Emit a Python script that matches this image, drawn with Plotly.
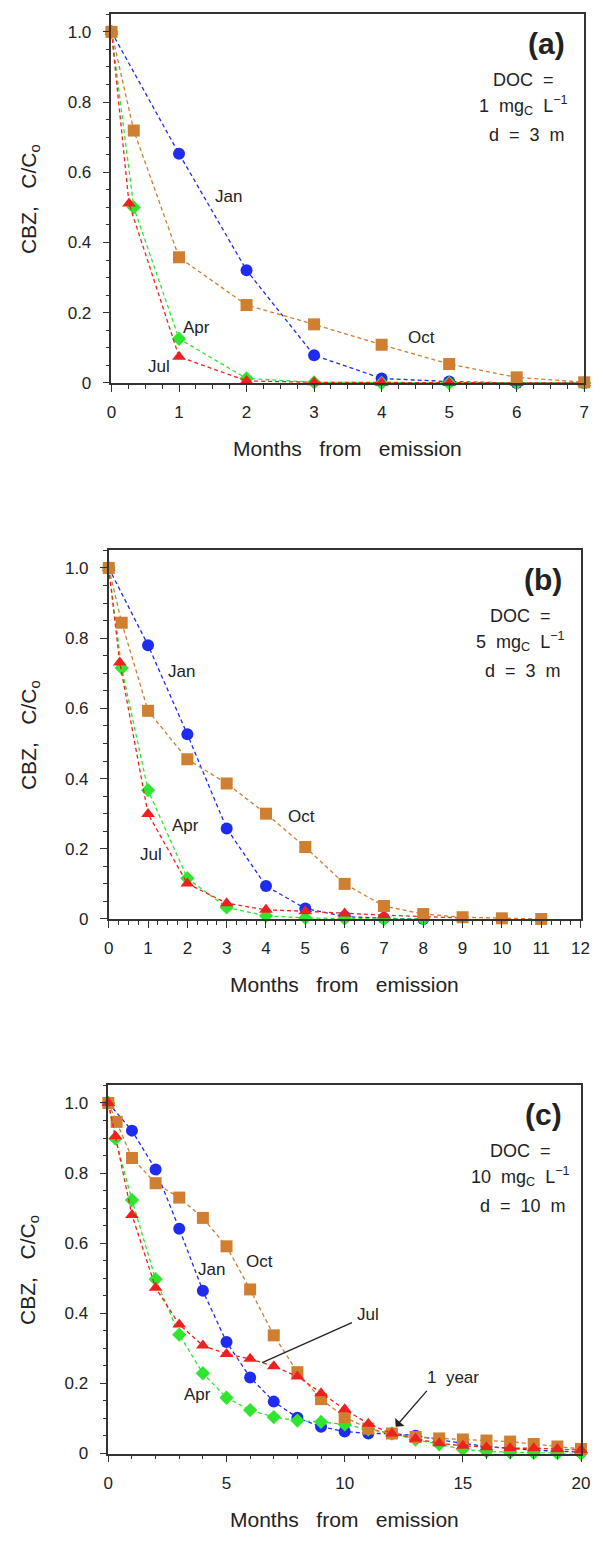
import plotly.graph_objects as go

# ---------------- data ----------------
# Panel (a): DOC = 1 mgC/L, d = 3 m
a_jan_x = [0, 1, 2, 3, 4, 5, 6, 7]
a_jan_y = [1.0, 0.653, 0.321, 0.079, 0.013, 0.004, 0.0, 0.0]
a_apr_x = [0, 0.33, 1, 2, 3, 4, 5, 6, 7]
a_apr_y = [1.0, 0.50, 0.126, 0.013, 0.002, 0.0, 0.0, 0.0, 0.0]
a_jul_x = [0, 0.26, 1, 2, 3, 4, 5, 6, 7]
a_jul_y = [1.0, 0.511, 0.075, 0.006, 0.002, 0.001, 0.0, 0.0, 0.0]
a_oct_x = [0, 0.33, 1, 2, 3, 4, 5, 6, 7]
a_oct_y = [1.0, 0.719, 0.358, 0.222, 0.167, 0.109, 0.054, 0.016, 0.002]

# Panel (b): DOC = 5 mgC/L, d = 3 m
b_jan_x = [0, 1, 2, 3, 4, 5, 6, 7, 8]
b_jan_y = [1.0, 0.780, 0.526, 0.258, 0.094, 0.030, 0.007, 0.002, 0.0]
b_apr_x = [0, 0.33, 1, 2, 3, 4, 5, 6, 7, 8]
b_apr_y = [1.0, 0.715, 0.367, 0.116, 0.033, 0.009, 0.003, 0.001, 0.0, 0.0]
b_jul_x = [0, 0.28, 1, 2, 3, 4, 5, 6, 7, 8, 9]
b_jul_y = [1.0, 0.731, 0.299, 0.101, 0.045, 0.026, 0.022, 0.016, 0.011, 0.007, 0.003]
b_oct_x = [0, 0.33, 1, 2, 3, 4, 5, 6, 7, 8, 9, 10, 11]
b_oct_y = [1.0, 0.844, 0.593, 0.455, 0.386, 0.300, 0.205, 0.100, 0.037, 0.014, 0.005, 0.002, 0.0]

# Panel (c): DOC = 10 mgC/L, d = 10 m
c_months = [0, 1, 2, 3, 4, 5, 6, 7, 8, 9, 10, 11, 12, 13, 14, 15, 16, 17, 18, 19, 20]
c_early = [0, 0.3, 1, 2, 3, 4, 5, 6, 7, 8, 9, 10, 11, 12, 13, 14, 15, 16, 17, 18, 19, 20]
c_jan_y = [1.0, 0.921, 0.810, 0.641, 0.464, 0.318, 0.217, 0.148, 0.102, 0.076, 0.063,
           0.057, 0.057, 0.051, 0.039, 0.029, 0.020, 0.015, 0.009, 0.007, 0.004]
c_apr_y = [1.0, 0.898, 0.723, 0.497, 0.339, 0.229, 0.159, 0.124, 0.104, 0.094, 0.090,
           0.083, 0.069, 0.057, 0.040, 0.026, 0.012, 0.006, 0.003, 0.002, 0.001, 0.0]
c_jul_y = [1.0, 0.905, 0.680, 0.473, 0.368, 0.308, 0.284, 0.270, 0.249, 0.220, 0.172,
           0.126, 0.085, 0.057, 0.042, 0.029, 0.022, 0.018, 0.015, 0.015, 0.013, 0.010]
c_oct_x = [0, 0.35, 1, 2, 3, 4, 5, 6, 7, 8, 9, 10, 11, 12, 13, 14, 15, 16, 17, 18, 19, 20]
c_oct_y = [1.0, 0.946, 0.843, 0.771, 0.730, 0.672, 0.591, 0.468, 0.337, 0.232, 0.155,
           0.104, 0.071, 0.057, 0.047, 0.043, 0.040, 0.037, 0.034, 0.027, 0.020, 0.013]

y_tickvals = [0, 0.2, 0.4, 0.6, 0.8, 1.0]
y_ticktext = ["0", "0.2", "0.4", "0.6", "0.8", "1.0"]

# ---------------- styles ----------------
BLUE = "#1e2cf0"
GREEN = "#2ee62e"
RED = "#f02020"
ORANGE = "#cf7f2f"
FONT = "Liberation Sans, Arial, sans-serif"
TXT = "#222222"
AX = "#333333"

sty = {
    "Jan": dict(color=BLUE, symbol="circle", size=12),
    "Apr": dict(color=GREEN, symbol="diamond", size=11),
    "Jul": dict(color=RED, symbol="triangle-up", size=12),
    "Oct": dict(color=ORANGE, symbol="square", size=12),
}

fig = go.Figure()


def add(name, x, y, ax):
    s = sty[name]
    fig.add_trace(go.Scatter(
        x=x, y=y, mode="lines+markers", name=name, showlegend=False,
        xaxis="x" + ax, yaxis="y" + ax, cliponaxis=False,
        line=dict(color=s["color"], width=1.3, dash="4px,3px"),
        marker=dict(color=s["color"], symbol=s["symbol"], size=s["size"], line=dict(width=0)),
    ))


# panel a (axis suffix "")
add("Jan", a_jan_x, a_jan_y, "")
add("Apr", a_apr_x, a_apr_y, "")
add("Jul", a_jul_x, a_jul_y, "")
add("Oct", a_oct_x, a_oct_y, "")
# panel b
add("Jan", b_jan_x, b_jan_y, "2")
add("Apr", b_apr_x, b_apr_y, "2")
add("Jul", b_jul_x, b_jul_y, "2")
add("Oct", b_oct_x, b_oct_y, "2")
# panel c
add("Jan", c_months, c_jan_y, "3")
add("Apr", c_early, c_apr_y, "3")
add("Oct", c_oct_x, c_oct_y, "3")
add("Jul", c_early, c_jul_y, "3")

W, H = 603, 1541
panels = {
    "": dict(l=109, r=593, t=14.4, b=385.5, xr=[0, 7], dt=1, mdt=0.25),
    "2": dict(l=106.2, r=589.2, t=554.0, b=925.0, xr=[0, 12], dt=1, mdt=0.25),
    "3": dict(l=105.8, r=589.7, t=1092.5, b=1463.0, xr=[0, 20], dt=5, mdt=1),
}

layout = dict(width=W, height=H, margin=dict(l=0, r=0, t=0, b=0),
              paper_bgcolor="white", plot_bgcolor="white", showlegend=False,
              font=dict(family=FONT, color=TXT, size=16))

for k, p in panels.items():
    xa = "xaxis" + k
    ya = "yaxis" + k
    layout[xa] = dict(
        domain=[p["l"] / W, p["r"] / W], range=p["xr"], anchor="y" + k,
        showgrid=False, zeroline=False, showline=True, mirror=True,
        linecolor=AX, linewidth=1.5, ticks="outside", ticklen=7, tickwidth=1.2,
        tickcolor=AX, dtick=p["dt"], tick0=0, ticklabelstandoff=6,
        tickfont=dict(family=FONT, size=17, color=TXT),
        minor=dict(ticks="outside", ticklen=4, tickwidth=1, tickcolor=AX, dtick=p["mdt"], tick0=0),
        fixedrange=True,
    )
    layout[ya] = dict(
        domain=[1 - p["b"] / H, 1 - p["t"] / H], range=[0, 1.05], anchor="x" + k,
        showgrid=False, zeroline=False, showline=True, mirror=True,
        linecolor=AX, linewidth=1.5, ticks="outside", ticklen=7, tickwidth=1.2,
        tickcolor=AX, tickvals=y_tickvals, ticktext=y_ticktext, ticklabelstandoff=8,
        tickfont=dict(family=FONT, size=17, color=TXT),
        minor=dict(ticks="outside", ticklen=4, tickwidth=1, tickcolor=AX, dtick=0.05, tick0=0),
        fixedrange=True,
    )

fig.update_layout(**layout)

NB = "\u00a0"
ann = []


def txt(text, x, y, ax, size=17, **kw):
    d = dict(text=text, x=x, y=y, xref="x" + ax, yref="y" + ax, showarrow=False,
             font=dict(family=FONT, size=size, color=TXT), xanchor="center", yanchor="middle")
    d.update(kw)
    ann.append(d)


def dom(text, x, y, ax, size=17, **kw):
    d = dict(text=text, x=x, y=y, xref=("x" + ax + " domain"), yref=("y" + ax + " domain"),
             showarrow=False, font=dict(family=FONT, size=size, color=TXT),
             xanchor="center", yanchor="middle")
    d.update(kw)
    ann.append(d)


sp2 = NB * 2
sp3 = NB * 3
titles = [("", "(a)", "1"), ("2", "(b)", "5"), ("3", "(c)", "10")]
depth = {"": "3", "2": "3", "3": "10"}
for k, lab, doc in titles:
    p = panels[k]
    dom("<b>" + lab + "</b>", 0.92, 0.922, k, size=30)
    dom("DOC" + sp2 + "=", 0.872, 0.822, k, size=18)
    dom(doc + sp2 + "mg<sub>C</sub>" + sp2 + "L<sup>−1</sup>", 0.872, 0.752, k, size=18)
    dom("d" + sp2 + "=" + sp2 + depth[k] + sp2 + "m", 0.878, 0.672, k, size=18)
    # x title
    ann.append(dict(text="Months" + sp3 + "from" + sp3 + "emission", x=0.5, xref="x" + k + " domain",
                    y=1 - (p["b"] + 66) / H, yref="paper", showarrow=False,
                    font=dict(family=FONT, size=21, color=TXT), xanchor="center", yanchor="middle"))
    # y title
    ann.append(dict(text="CBZ," + sp3 + "C/C<sub>o</sub>", x=25 / W, xref="paper",
                    y=0.5, yref="y" + k + " domain", textangle=-90, showarrow=False,
                    font=dict(family=FONT, size=21, color=TXT), xanchor="center", yanchor="middle"))

# month labels
txt("Jan", 1.74, 0.53, "")
txt("Apr", 1.26, 0.158, "")
txt("Jul", 0.71, 0.046, "")
txt("Oct", 4.59, 0.129, "")

txt("Jan", 1.85, 0.705, "2")
txt("Oct", 4.91, 0.292, "2")
txt("Apr", 1.95, 0.266, "2")
txt("Jul", 1.07, 0.184, "2")

txt("Jan", 4.38, 0.526, "3")
txt("Oct", 6.41, 0.548, "3")
txt("Apr", 3.77, 0.167, "3")
txt("Jul", 10.99, 0.396, "3")
txt("1" + sp2 + "year", 14.57, 0.216, "3")

# leader line for Jul (no head) and arrow for 1 year
ann.append(dict(text="", x=6.51, y=0.259, ax=10.37, ay=0.375, xref="x3", yref="y3",
                axref="x3", ayref="y3", showarrow=True, arrowhead=0, arrowwidth=1.3,
                arrowcolor="#222222", standoff=0, startstandoff=0))
ann.append(dict(text="", x=12.16, y=0.0765, ax=13.53, ay=0.183, xref="x3", yref="y3",
                axref="x3", ayref="y3", showarrow=True, arrowhead=1, arrowsize=1.6, arrowwidth=1.3,
                arrowcolor="#222222", standoff=0, startstandoff=0))

fig.update_layout(annotations=ann)
fig.write_html("out.html", config={"displayModeBar": False},
               post_script="document.body.style.margin='0';document.body.style.padding='0';")
